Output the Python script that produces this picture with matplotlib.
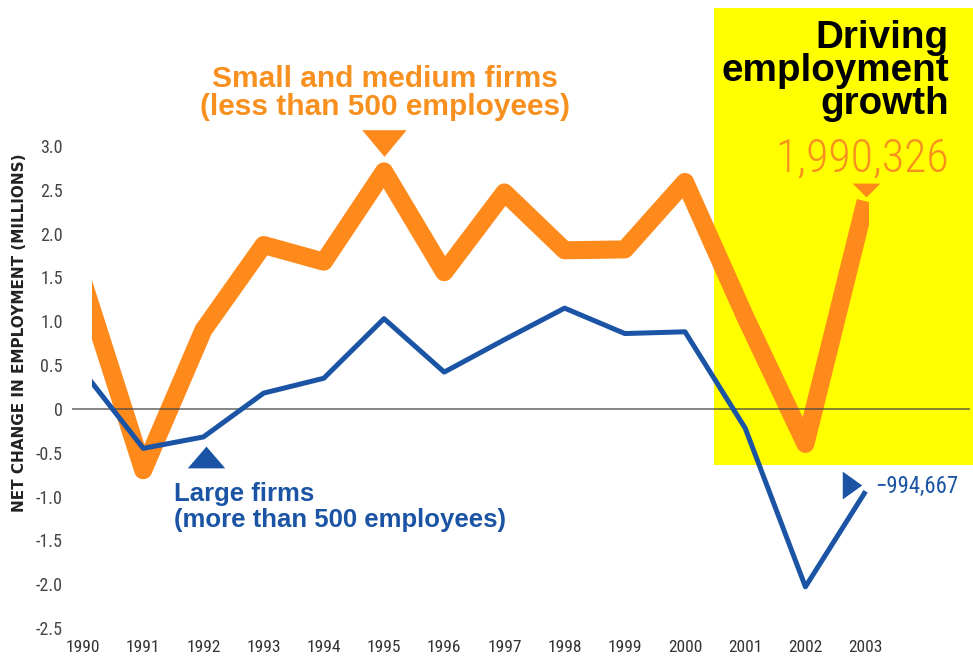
import matplotlib.pyplot as plt
from matplotlib.patches import Rectangle
from matplotlib.path import Path

years = list(range(1990, 2004))
small_medium = [1.45, -0.7, 0.9, 1.87, 1.68, 2.71, 1.56, 2.47, 1.81, 1.82, 2.59, 1.05, -0.4, 2.37]
large = [0.43, -0.45, -0.32, 0.18, 0.35, 1.03, 0.42, 0.79, 1.15, 0.86, 0.88, -0.22, -2.03, -0.94]
yticks = [3.0, 2.5, 2.0, 1.5, 1.0, 0.5, 0, -0.5, -1.0, -1.5, -2.0, -2.5]
ytick_labels = ['3.0', '2.5', '2.0', '1.5', '1.0', '0.5', '0', '-0.5', '-1.0', '-1.5', '-2.0', '-2.5']
small_2003_exact = 1990326
large_2003_exact = -994667

ORANGE = '#FF8A1C'
ORANGE_TXT = '#F7901E'
BLUE = '#1B54A4'
YELLOW = '#FFFF00'
NARROW = ['Roboto Condensed', 'Liberation Sans Narrow', 'Roboto', 'DejaVu Sans']
BOLD = ['Liberation Sans', 'DejaVu Sans']

W, H = 973, 667
fig = plt.figure(figsize=(W / 100, H / 100), dpi=100)


def px(x, y):
    # pixel position (from top-left) -> figure fraction
    return x / W, 1 - y / H


def tri(direction, squash):
    # flattened triangle marker pointing 'down', 'up' or 'right'
    if direction == 'down':
        verts = [(-1, squash), (1, squash), (0, -squash), (-1, squash)]
    elif direction == 'up':
        verts = [(-1, -squash), (1, -squash), (0, squash), (-1, -squash)]
    else:
        verts = [(-squash, 1), (squash, 0), (-squash, -1), (-squash, 1)]
    return Path(verts, closed=True)


ax = fig.add_axes([72 / W, 1 - 628 / H, 898 / W, 482 / H])
ax.set_xlim(1989.817, 2004.734)
ax.set_ylim(-2.5, 3.0)
ax.patch.set_alpha(0)
for s in ax.spines.values():
    s.set_visible(False)

# highlight box for the last years
ax.add_patch(Rectangle((2000.48, -0.64), 5, 5.21, facecolor=YELLOW,
                       edgecolor='none', zorder=0, clip_on=False))

l_small, = ax.plot(years, small_medium, color=ORANGE, lw=13, solid_joinstyle='round',
                   solid_capstyle='butt', zorder=2)
ax.axhline(0, color='#444444', alpha=0.65, lw=1.4, zorder=2.5)
l_large, = ax.plot(years, large, color=BLUE, lw=3.6, solid_joinstyle='round',
                   solid_capstyle='butt', zorder=3)

# lines are cut square at both ends
for ln in (l_small, l_large):
    ln.set_clip_path(Rectangle((1990.15, -5), 12.9, 10, transform=ax.transData))

ax.set_xticks(years)
ax.set_xticklabels([str(y) for y in years], family=NARROW, fontsize=12.5, color='#333333')
ax.set_yticks(yticks)
ax.set_yticklabels(ytick_labels, family=NARROW, fontsize=13, color='#444444')
ax.tick_params(length=0)
ax.tick_params(axis='x', pad=9)
ax.tick_params(axis='y', pad=6.5)

fig.text(*px(20, 333), 'NET CHANGE IN EMPLOYMENT (MILLIONS)', rotation=90,
         ha='center', va='center', fontsize=11, fontweight='bold',
         family='DejaVu Sans', color='#222222')

# series labels with pointer triangles
ax.plot(1995, small_medium[5] + 0.32, marker=tri('down', 0.6), ms=32, color=ORANGE,
        mec='none', clip_on=False, zorder=4)
fig.text(*px(385, 93), 'Small and medium firms\n(less than 500 employees)',
         ha='center', va='center', fontsize=21.5, fontweight='bold',
         family=BOLD, color=ORANGE_TXT, linespacing=1.02)

ax.plot(1992.05, large[2] - 0.23, marker=tri('up', 0.58), ms=27, color=BLUE,
        mec='none', clip_on=False, zorder=4)
fig.text(*px(174, 507), 'Large firms\n(more than 500 employees)',
         ha='left', va='center', fontsize=18.5, fontweight='bold',
         family=BOLD, color=BLUE, linespacing=1.1)

# highlight text
fig.text(*px(949, 71), 'Driving\nemployment\ngrowth', ha='right', va='center',
         fontsize=27.8, fontweight='bold', family=BOLD, color='black',
         linespacing=0.88)
fig.text(*px(949, 159), f'{small_2003_exact:,}', ha='right', va='center',
         fontsize=33, fontweight='light', family=NARROW, color=ORANGE_TXT)
ax.plot(2003, small_medium[-1] + 0.13, marker=tri('down', 0.5), ms=20, color=ORANGE,
        mec='none', clip_on=False, zorder=4)

ax.plot(2002.78, large[-1] + 0.07, marker=tri('right', 0.7), ms=20, color=BLUE,
        mec='none', clip_on=False, zorder=4)
fig.text(*px(875, 486), f'\u2212{abs(large_2003_exact):,}', ha='left', va='center',
         fontsize=16.4, family=NARROW, color=BLUE)

fig.savefig('out.png', dpi=100)
